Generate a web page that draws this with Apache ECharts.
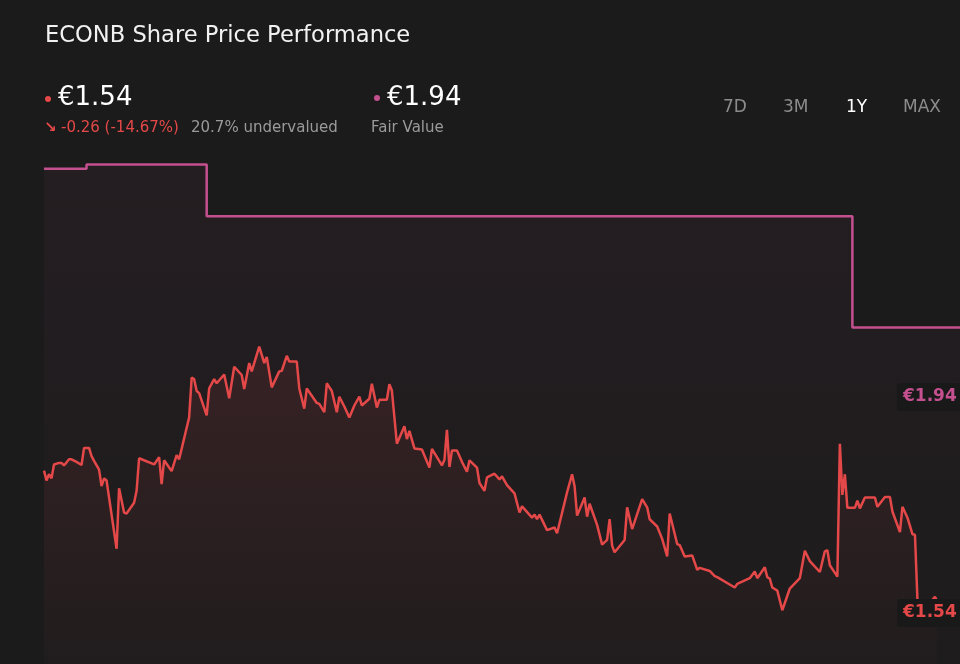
<!DOCTYPE html>
<html>
<head>
<meta charset="utf-8">
<script src="https://cdn.jsdelivr.net/npm/echarts@6/dist/echarts.min.js"></script>
<style>
  html, body { margin: 0; padding: 0; background: #1b1b1b; }
  #chart { width: 960px; height: 664px; }
</style>
</head>
<body>
<div id="chart"></div>
<script>
// Day offsets (over one year) and share prices (EUR)
const days = [0,1,2,3,4,6,7,8,10,11,13,15,16,18,19,20,22,23,24,25,29,30,32,33,36,37,38,44,46,47,48,50,51,53,54,58,59,60,61,62,65,66,68,69,72,74,76,79,80,82,83,86,88,89,91,94,95,97,98,101,102,104,105,109,110,112,113,115,117,118,120,122,124,126,127,130,131,133,134,137,138,139,141,144,145,146,148,151,154,155,159,160,161,162,163,165,167,169,170,173,174,176,177,180,182,183,185,188,190,191,195,196,197,198,201,204,205,209,211,212,213,216,217,218,221,223,225,226,227,228,232,233,235,239,241,242,245,247,249,250,253,254,256,259,261,262,266,268,269,276,277,282,284,285,288,289,290,291,293,295,297,298,302,304,306,310,312,313,314,317,318,319,320,321,324,325,326,328,332,333,336,338,339,342,343,345,347,348,349,350,352,354,356,357];
const prices = [1.794,1.775,1.787,1.779,1.806,1.809,1.809,1.804,1.816,1.816,1.811,1.805,1.838,1.838,1.822,1.813,1.796,1.764,1.779,1.775,1.643,1.760,1.713,1.711,1.732,1.755,1.818,1.806,1.820,1.768,1.814,1.800,1.793,1.824,1.816,1.897,1.974,1.971,1.948,1.944,1.901,1.953,1.971,1.963,1.980,1.934,1.995,1.979,1.952,2.002,1.986,2.034,2.002,2.014,1.955,1.986,1.987,2.016,2.005,2.005,1.953,1.914,1.953,1.925,1.923,1.907,1.963,1.948,1.907,1.937,1.918,1.897,1.920,1.937,1.920,1.933,1.962,1.916,1.931,1.931,1.961,1.949,1.846,1.880,1.855,1.871,1.837,1.835,1.800,1.836,1.804,1.815,1.873,1.801,1.833,1.833,1.811,1.792,1.814,1.800,1.770,1.755,1.781,1.788,1.777,1.783,1.766,1.750,1.713,1.725,1.703,1.709,1.700,1.709,1.679,1.684,1.673,1.752,1.787,1.764,1.707,1.742,1.705,1.730,1.689,1.651,1.660,1.700,1.649,1.636,1.660,1.723,1.681,1.739,1.723,1.700,1.686,1.662,1.628,1.711,1.652,1.650,1.628,1.630,1.602,1.606,1.600,1.590,1.588,1.568,1.575,1.586,1.599,1.586,1.607,1.588,1.585,1.568,1.562,1.524,1.552,1.566,1.586,1.639,1.619,1.598,1.638,1.640,1.611,1.589,1.846,1.747,1.787,1.722,1.722,1.736,1.721,1.742,1.742,1.724,1.743,1.743,1.715,1.675,1.724,1.703,1.671,1.670,1.544,1.538,1.540,1.538,1.550,1.540];
// Fair value steps
const fvDays = [0,17,65,323,366];
const fvValues = [2.378,2.386,2.286,2.071,2.071];
// Texts
const titleText = 'ECONB Share Price Performance';
const priceText = '€1.54';
const changeText = '-0.26 (-14.67%)';
const valuationText = '20.7% undervalued';
const fairText = '€1.94';
const fairLabel = 'Fair Value';
const ranges = ['7D','3M','1Y','MAX'];
const activeRange = '1Y';

const RED = '#e44848';
const PINK = '#c4508f';
const FONT = '"DejaVu Sans", sans-serif';

const chart = echarts.init(document.getElementById('chart'), null, {renderer: 'canvas'});

const priceData = days.map((d, i) => [d, prices[i]]);
const fvData = fvDays.map((d, i) => [d, fvValues[i]]);

const rangeX = [723, 783, 846, 903];
const graphics = [
  {type:'text', style:{text:titleText, x:45, y:36, fill:'#f2f2f2', fontSize:22.6, fontFamily:FONT, verticalAlign:'middle'}},
  {type:'circle', shape:{cx:48, cy:99, r:3}, style:{fill:RED}},
  {type:'text', style:{text:priceText, x:58, y:98, fill:'#ffffff', fontSize:26, fontFamily:FONT, verticalAlign:'middle'}},
  {type:'text', style:{text:'↘', x:44, y:128, fill:RED, fontSize:15, fontWeight:'bold', fontFamily:FONT, verticalAlign:'middle'}},
  {type:'text', style:{text:changeText, x:61, y:128, fill:RED, fontSize:15, fontFamily:FONT, verticalAlign:'middle'}},
  {type:'text', style:{text:valuationText, x:191, y:128, fill:'#9a9a9a', fontSize:15, fontFamily:FONT, verticalAlign:'middle'}},
  {type:'circle', shape:{cx:377, cy:98, r:3}, style:{fill:PINK}},
  {type:'text', style:{text:fairText, x:387, y:98, fill:'#ffffff', fontSize:26, fontFamily:FONT, verticalAlign:'middle'}},
  {type:'text', style:{text:fairLabel, x:371, y:128, fill:'#9a9a9a', fontSize:15, fontFamily:FONT, verticalAlign:'middle'}},
];
ranges.forEach((r, i) => {
  graphics.push({type:'text', style:{text:r, x:rangeX[i], y:108, fill: r === activeRange ? '#ffffff' : '#8c8c8c', fontSize:17, fontFamily:FONT, verticalAlign:'middle'}});
});
// value tags on right
graphics.push({type:'rect', z:100, shape:{x:897, y:383, width:63, height:28, r:3}, style:{fill:'#191919'}});
graphics.push({type:'text', z:101, style:{text:fairText, x:903, y:397, fill:PINK, fontSize:17, fontWeight:'bold', fontFamily:FONT, verticalAlign:'middle'}});
graphics.push({type:'rect', z:100, shape:{x:897, y:599, width:63, height:28, r:3}, style:{fill:'#191919'}});
graphics.push({type:'text', z:101, style:{text:priceText, x:903, y:613, fill:RED, fontSize:17, fontWeight:'bold', fontFamily:FONT, verticalAlign:'middle'}});

chart.setOption({
  backgroundColor: '#1b1b1b',
  animation: false,
  grid: {left: 44, right: 0, top: 147, height: 520},
  xAxis: {type: 'value', min: 0, max: 366, show: false},
  yAxis: {type: 'value', min: 1.42, max: 2.42, show: false},
  series: [
    {
      type: 'line', data: fvData, step: 'end', symbol: 'none',
      lineStyle: {color: PINK, width: 2.5},
      areaStyle: {color: new echarts.graphic.LinearGradient(0,0,0,1,[
        {offset:0, color:'rgba(196,80,143,0.08)'},
        {offset:1, color:'rgba(196,80,143,0.02)'}
      ])},
      z: 2
    },
    {
      type: 'line', data: priceData, symbol: 'none',
      lineStyle: {color: RED, width: 2.5},
      areaStyle: {color: new echarts.graphic.LinearGradient(0,0,0,1,[
        {offset:0, color:'rgba(226,72,72,0.16)'},
        {offset:1, color:'rgba(226,72,72,0.02)'}
      ])},
      z: 3
    }
  ],
  graphic: graphics
});
</script>
</body>
</html>
